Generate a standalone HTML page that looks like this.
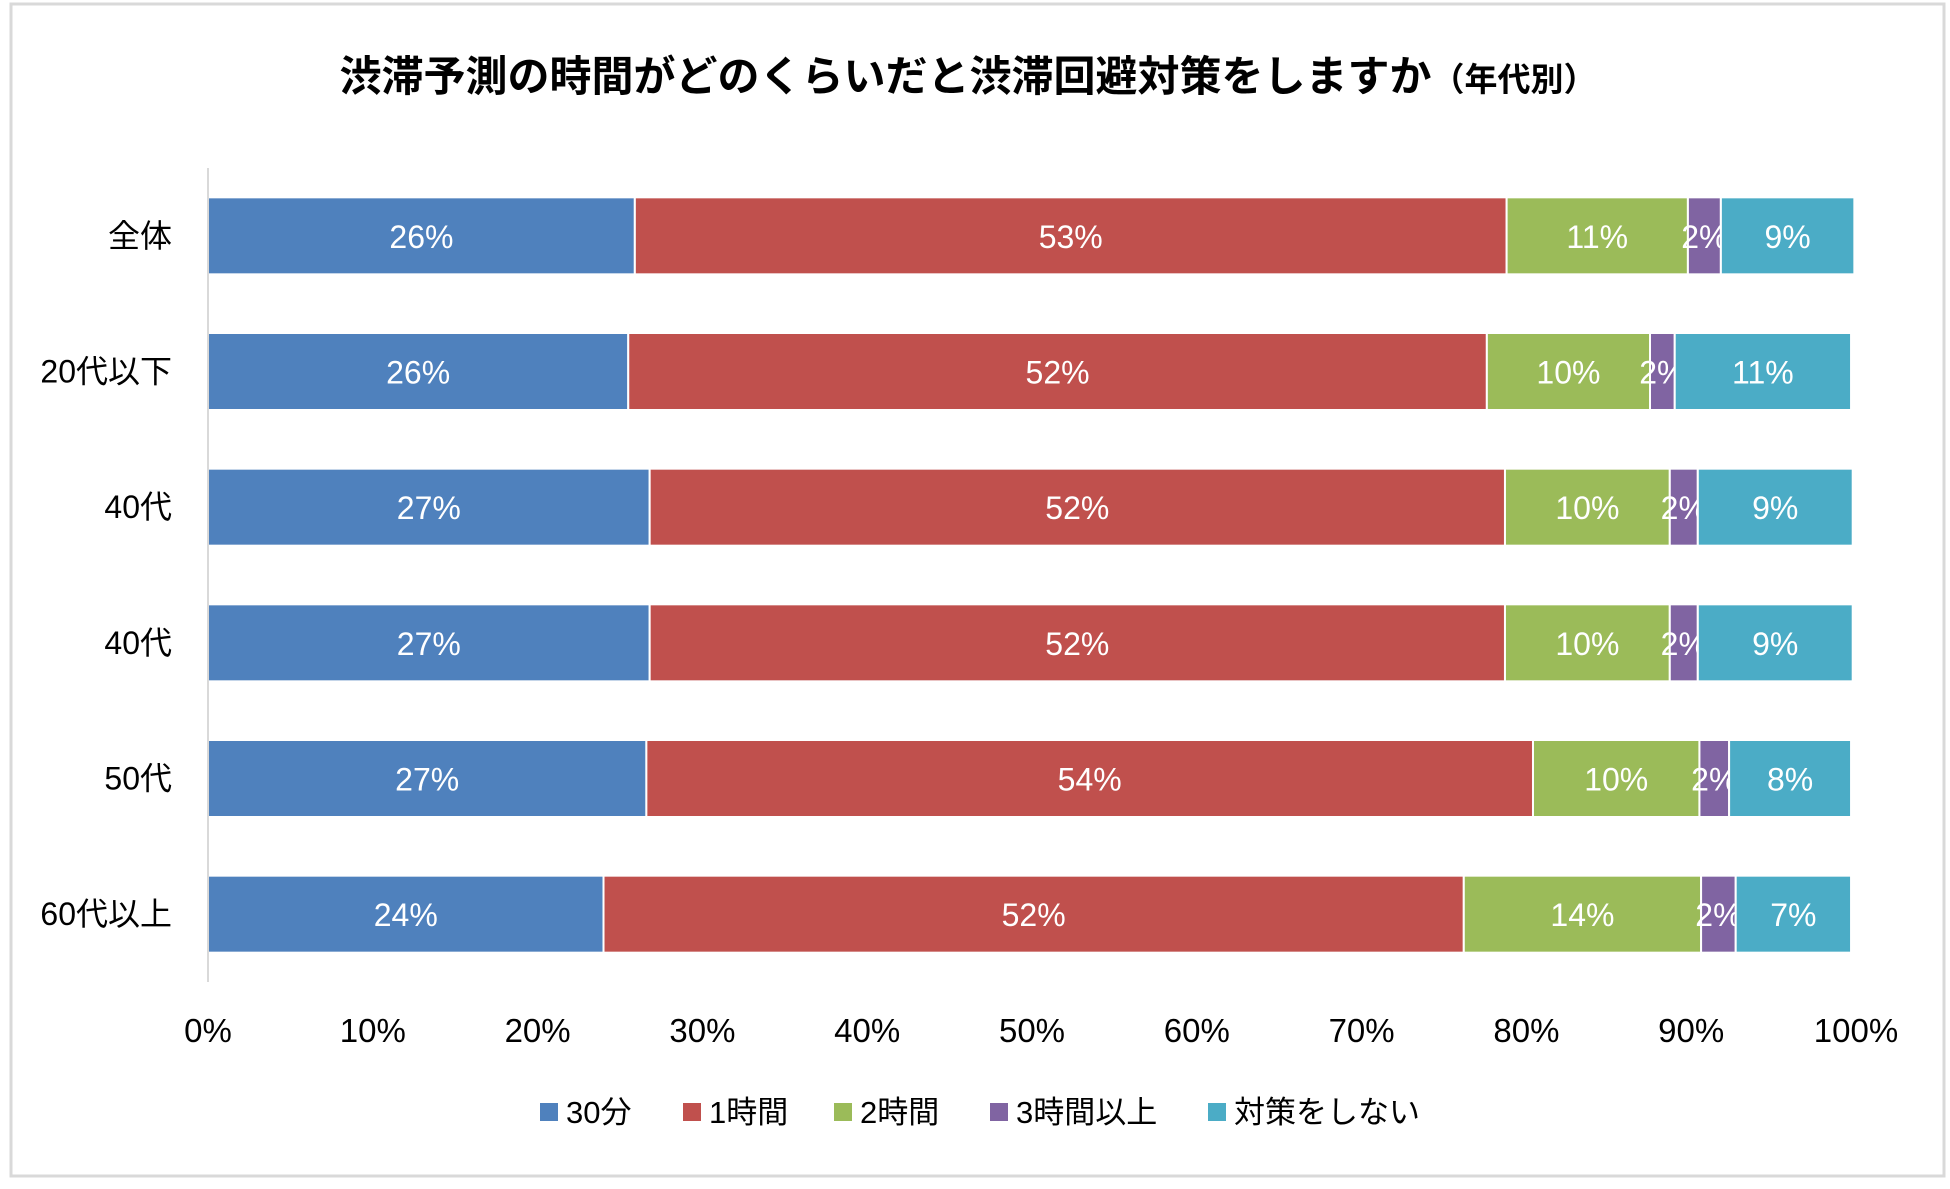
<!DOCTYPE html>
<html><head><meta charset="utf-8"><style>
body{margin:0;background:#fff}
svg text{font-family:"Liberation Sans","Noto Sans CJK JP",sans-serif}
</style></head><body>
<svg id="chart" width="1950" height="1184" xmlns="http://www.w3.org/2000/svg">
<rect x="11" y="4" width="1933" height="1172" fill="#fff" stroke="#d9d9d9" stroke-width="3"/>
<text x="968" y="91" text-anchor="middle" font-size="42" font-weight="bold" fill="#000">渋滞予測の時間がどのくらいだと渋滞回避対策をしますか<tspan font-size="33">（年代別）</tspan></text>
<g id="plot"></g>
</svg>
<script>
const categories=["全体","20代以下","40代","40代","50代","60代以上"];
const seriesNames=["30分","1時間","2時間","3時間以上","対策をしない"];
const s30=[25.9,25.5,26.8,26.8,26.6,24.0];
const s1h=[52.9,52.1,51.9,51.9,53.8,52.2];
const s2h=[11.0,9.9,10.0,10.0,10.1,14.4];
const s3h=[2.0,1.5,1.7,1.7,1.8,2.1];
const sNone=[8.1,10.7,9.4,9.4,7.4,7.0];
const lab30=["26%","26%","27%","27%","27%","24%"];
const lab1h=["53%","52%","52%","52%","54%","52%"];
const lab2h=["11%","10%","10%","10%","10%","14%"];
const lab3h=["2%","2%","2%","2%","2%","2%"];
const labNone=["9%","11%","9%","9%","8%","7%"];
const ticks=[0,10,20,30,40,50,60,70,80,90,100];
const colors=["#4f81bd","#c0504d","#9bbb59","#8064a2","#4bacc6"];
const NS="http://www.w3.org/2000/svg";
const g=document.getElementById('plot');
const X0=208,X1=1856,Y0=168,Y1=982;
const xs=v=>X0+(X1-X0)*v/100;
const rowH=(Y1-Y0)/categories.length;
const yc=i=>Y0+rowH*(i+0.5);
const barH=77;
function mk(t,a){const e=document.createElementNS(NS,t);for(const k in a)e.setAttribute(k,a[k]);g.appendChild(e);return e;}
const series=[s30,s1h,s2h,s3h,sNone];
const labels=[lab30,lab1h,lab2h,lab3h,labNone];
categories.forEach((c,i)=>{
  let acc=0;
  series.forEach((s,k)=>{
    const x=xs(acc),w=xs(acc+s[i])-x;
    const r=mk('rect',{x:x,y:yc(i)-barH/2,width:w,height:barH,fill:colors[k],stroke:'#fff','stroke-width':2});
    
    
    const t=mk('text',{x:x+w/2,y:yc(i)+12,'text-anchor':'middle','font-size':32,fill:'#fff'});
    t.textContent=labels[k][i];
    
    
    acc+=s[i];
  });
  const cl=mk('text',{x:172,y:yc(i)+11,'text-anchor':'end','font-size':32,fill:'#000'});
  cl.textContent=c;
  
  
});
const ax=mk('line',{x1:X0,x2:X0,y1:Y0,y2:Y1,stroke:'#d9d9d9','stroke-width':2});


ticks.forEach(v=>{
  const t=mk('text',{x:xs(v),y:1042,'text-anchor':'middle','font-size':33,fill:'#000'});
  t.textContent=v+'%';
  
  
});
const lx=[540,683,834,990,1208];
seriesNames.forEach((n,k)=>{
  const r=mk('rect',{x:lx[k],y:1103,width:18,height:18,fill:colors[k]});
  
  
  const t=mk('text',{x:lx[k]+26,y:1123,'font-size':31,fill:'#000'});
  t.textContent=n;
  
  
});
</script>
</body></html>
